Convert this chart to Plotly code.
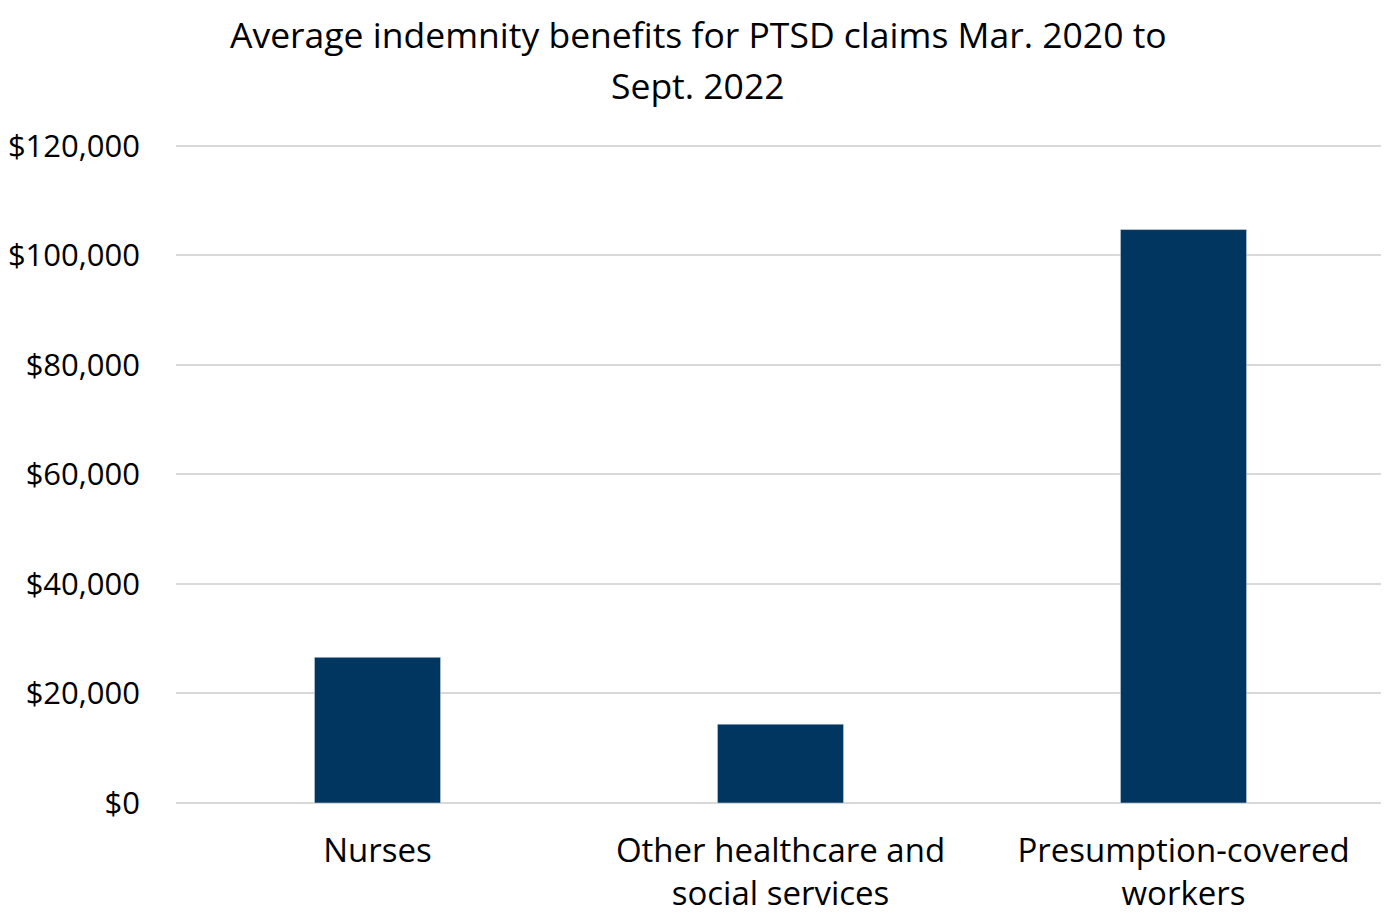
import plotly.graph_objects as go

categories = ["Nurses", "Other healthcare and<br>social services", "Presumption-covered<br>workers"]
values = [26600, 14400, 104700]
tick_vals = [0, 20000, 40000, 60000, 80000, 100000, 120000]
tick_text = ["$0", "$20,000", "$40,000", "$60,000", "$80,000", "$100,000", "$120,000"]
title_lines = ["Average indemnity benefits for PTSD claims Mar. 2020 to", "Sept. 2022"]

font_family = "Open Sans, Liberation Sans, sans-serif"

# page body has an 8px margin; figure coordinates are offset accordingly
fig = go.Figure(go.Bar(
    x=categories, y=values, marker_color="#003660", width=0.313,
))

fig.update_layout(
    width=1389, height=913,
    paper_bgcolor="white", plot_bgcolor="white",
    margin=dict(l=168, r=12, t=135, b=118, autoexpand=False),
    font=dict(family=font_family, color="black"),
    showlegend=False,
)
for line, ypx in zip(title_lines, [26, 77]):
    fig.add_annotation(text=line, xref="paper", yref="paper", x=0.4318,
                       y=(795 - ypx) / 660, xanchor="center", yanchor="middle",
                       showarrow=False, borderpad=0,
                       font=dict(family=font_family, size=35.5, color="black"))

fig.update_yaxes(range=[0, 120500], tickvals=tick_vals, ticktext=tick_text,
                 showgrid=True, gridcolor="#d9d9d9", gridwidth=2, zeroline=True,
                 zerolinecolor="#d9d9d9", zerolinewidth=2, automargin=False,
                 tickfont=dict(size=31), ticklen=0, ticks="", ticklabelstandoff=35)
fig.update_xaxes(tickfont=dict(size=33), showline=False, ticks="", automargin=False,
                 ticklabelstandoff=25)

fig.write_html("out.html")
